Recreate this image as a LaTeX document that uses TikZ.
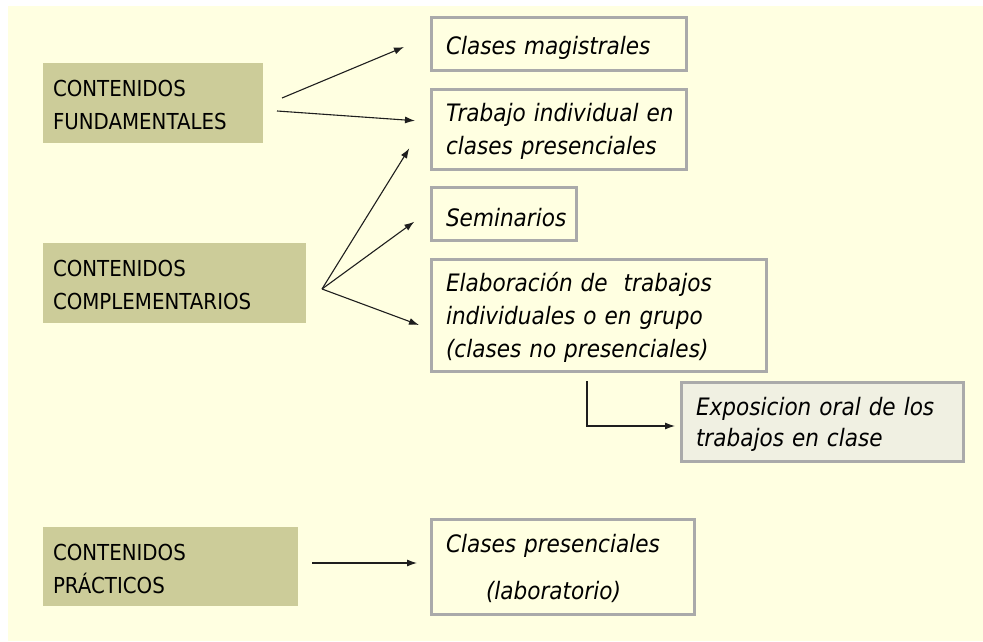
\documentclass[tikz,border=0pt]{standalone}
\usepackage{fontspec}
\setmainfont{DejaVu Sans}[FakeStretch=0.9]
\usetikzlibrary{arrows.meta}
\definecolor{bgyellow}{RGB}{255,255,225}
\definecolor{khaki}{RGB}{204,204,153}
\definecolor{boxgray}{RGB}{170,170,170}
\definecolor{expofill}{RGB}{240,240,226}
\definecolor{arrowcol}{RGB}{30,30,30}
\tikzset{
  every node/.style={inner ysep=0pt, outer sep=0pt, align=left, anchor=north west},
  leftbox/.style={fill=khaki, inner xsep=10pt, font=\fontsize{22}{33}\selectfont},
  rightbox/.style={draw=boxgray, line width=3pt, fill=bgyellow, inner xsep=14.5pt,
                   font=\fontsize{24}{33}\selectfont\itshape},
  arr/.style={draw=arrowcol, line width=1.1pt, -{Latex[length=10pt,width=7pt]}}
}
\begin{document}
\begin{tikzpicture}[x=1pt,y=1pt]
  \useasboundingbox (0,0) rectangle (983,641);
  \fill[bgyellow] (8,0) rectangle (983,635);

  % left boxes
  \node[leftbox, text width=200pt, text height=34pt, text depth=46pt] (fund) at (43,578)
    {\mbox{CONTENIDOS}\\\mbox{FUNDAMENTALES}};
  \node[leftbox, text width=243pt, text height=34pt, text depth=46pt] (comp) at (43,398)
    {\mbox{CONTENIDOS}\\\mbox{COMPLEMENTARIOS}};
  \node[leftbox, text width=235pt, text height=33pt, text depth=46pt] (prac) at (43,114)
    {\mbox{CONTENIDOS}\\\mbox{PRÁCTICOS}};

  % right boxes
  \node[rightbox, text width=226pt, text height=37.5pt, text depth=15.5pt] (mag) at (431.5,623.5)
    {\mbox{Clases magistrales}};
  \node[rightbox, text width=226pt, text height=32.5pt, text depth=47.5pt] (trab) at (431.5,551.5)
    {\mbox{Trabajo individual en}\\\mbox{clases presenciales}};
  \node[rightbox, text width=116pt, text height=39.2pt, text depth=13.8pt] (sem) at (431.5,453.5)
    {\mbox{Seminarios}};
  \node[rightbox, text width=306pt, text height=32.2pt, text depth=79.8pt] (elab) at (431.5,381.5)
    {\mbox{Elaboración de\ \ trabajos}\\\mbox{individuales o en grupo}\\\mbox{(clases no presenciales)}};
  \node[rightbox, fill=expofill, text width=253pt, text height=32.5pt, text depth=46.5pt,
        font=\fontsize{24}{32}\selectfont\itshape] (expo) at (681.5,258.5)
    {\mbox{Exposicion oral de los}\\\mbox{trabajos en clase}};
  \node[rightbox, text width=234pt, text height=33.2pt, text depth=61.8pt] (lab) at (431.5,121.5)
    {\mbox{Clases presenciales}\\[14pt]\hspace*{40pt}\mbox{(laboratorio)}};

  % connectors
  \draw[arr] ([shift={(19,5)}]fund.east) -- ([shift={(-27.5,-3)}]mag.west);
  \draw[arr] ([shift={(14,-8)}]fund.east) -- ([shift={(-16.5,8.8)}]trab.west);
  \draw[arr] ([shift={(16,-6)}]comp.east) -- ([shift={(-22.2,-18.8)}]trab.west);
  \draw[arr] ([shift={(16,-6)}]comp.east) -- ([shift={(-17.2,-7.7)}]sem.west);
  \draw[arr] ([shift={(16,-6)}]comp.east) -- ([shift={(-12.5,-9.5)}]elab.west);
  \draw[arr] ([shift={(-12,-9.5)}]elab.south) |- ([shift={(-6.5,-4)}]expo.west);
  \draw[arr] ([shift={(14,3.5)}]prac.east) -- ([shift={(-14.5,4)}]lab.west);
\end{tikzpicture}
\end{document}
